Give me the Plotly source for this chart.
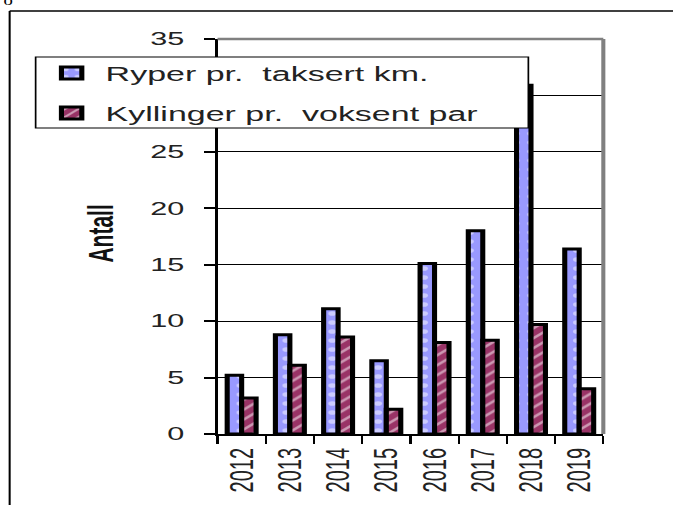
import plotly.graph_objects as go

years = ["2012", "2013", "2014", "2015", "2016", "2017", "2018", "2019"]
ryper = [5.2, 8.8, 11.1, 6.5, 15.1, 18.0, 30.9, 16.4]
kyllinger = [3.2, 6.1, 8.6, 2.2, 8.1, 8.3, 9.7, 4.0]
series_names = ["Ryper pr.  taksert km.", "Kyllinger pr.  voksent par"]
y_ticks = [0, 5, 10, 15, 20, 25, 30, 35]

# The reference picture is a chart stretched horizontally; the figure is laid out
# at a narrower width and widened on the page.
SCREEN_W, H = 673, 505
W = 396
S = SCREEN_W / W

# plot area on screen
PL, PR, PT, PB = 217, 603, 39, 434
L = PL / S
R = W - PR / S
T = PT
B = H - PB
pw, ph = W - L - R, H - T - B


def px(x_screen):
    return (x_screen / S - L) / pw


def py(y):
    return (H - B - y) / ph


fig = go.Figure()
fig.add_trace(go.Bar(
    x=years, y=ryper, name=series_names[0], legend="legend",
    marker=dict(color="#9999FF", line=dict(color="black", width=3),
                pattern=dict(shape=".", fgcolor="white", size=9, solidity=0.2)),
))
fig.add_trace(go.Bar(
    x=years, y=kyllinger, name=series_names[1], legend="legend2",
    marker=dict(color="#993366", line=dict(color="black", width=3),
                pattern=dict(shape="/", fgcolor="white", size=7, solidity=0.3)),
))

font_main = "Liberation Sans, Arial, sans-serif"
legend_common = dict(
    xanchor="left", yanchor="middle", bgcolor="rgba(0,0,0,0)", borderwidth=0,
    font=dict(family=font_main, size=20, color="#222"), itemwidth=30,
)
LEG_X = 37

fig.update_layout(
    width=W, height=H,
    margin=dict(l=L, r=R, t=T, b=B, pad=0),
    paper_bgcolor="white", plot_bgcolor="white",
    barmode="group", bargap=0.4, bargroupgap=0,
    showlegend=True, hovermode=False,
    legend=dict(x=px(LEG_X), y=py(73), **legend_common),
    legend2=dict(x=px(LEG_X), y=py(113), **legend_common),
    xaxis=dict(
        type="category", categoryorder="array", categoryarray=years,
        showline=True, linecolor="black", linewidth=2,
        ticks="outside", tickson="boundaries", ticklen=8, tickcolor="black", tickwidth=1.3,
        ticklabelstandoff=4,
        tickangle=-90, tickfont=dict(family=font_main, size=20, color="#222"),
        showgrid=False, zeroline=False,
    ),
    yaxis=dict(
        range=[0, 35], tickvals=y_ticks, ticktext=[str(v) for v in y_ticks],
        showline=True, linecolor="black", linewidth=1.5,
        ticks="outside", ticklen=6.5, tickcolor="black", tickwidth=2,
        ticklabelstandoff=8,
        tickfont=dict(family=font_main, size=18, color="#222"),
        showgrid=True, gridcolor="black", gridwidth=1, zeroline=False,
    ),
    shapes=[
        # plot area border (top and right, grey)
        dict(type="line", xref="paper", yref="paper", x0=0, x1=1, y0=1, y1=1,
             line=dict(color="#808080", width=2.5), layer="above"),
        dict(type="line", xref="paper", yref="paper", x0=1, x1=1, y0=0, y1=1,
             line=dict(color="#808080", width=2.4), layer="above"),
        # legend box
        dict(type="rect", xref="paper", yref="paper",
             x0=px(35), x1=px(528), y0=py(128), y1=py(57),
             fillcolor="white", line=dict(color="black", width=1), layer="above"),
        # outer frame
        dict(type="line", xref="paper", yref="paper", x0=px(9), x1=px(SCREEN_W + 5), y0=py(11), y1=py(11),
             line=dict(color="black", width=1.5)),
        dict(type="line", xref="paper", yref="paper", x0=px(9), x1=px(9), y0=py(11), y1=py(H + 5),
             line=dict(color="black", width=1.2)),
    ],
    annotations=[
        dict(text="<b>Antall</b>", xref="paper", yref="paper", x=px(99), y=py(234),
             xanchor="center", yanchor="middle", textangle=-90, showarrow=False,
             font=dict(family=font_main, size=21, color="#111")),
        dict(text="0", xref="paper", yref="paper", x=px(0), y=py(1), xanchor="left", yanchor="middle",
             showarrow=False, font=dict(family="Liberation Serif, Times New Roman, serif", size=11, color="black")),
    ],
)

post = (
    "document.body.style.margin='0';"
    "var gd=document.getElementById('{plot_id}');"
    "gd.style.transformOrigin='0 0';"
    "gd.style.transform='scaleX(" + repr(S) + ")';"
)

fig.write_html("out.html", post_script=post,
               config={"displayModeBar": False, "staticPlot": True})
